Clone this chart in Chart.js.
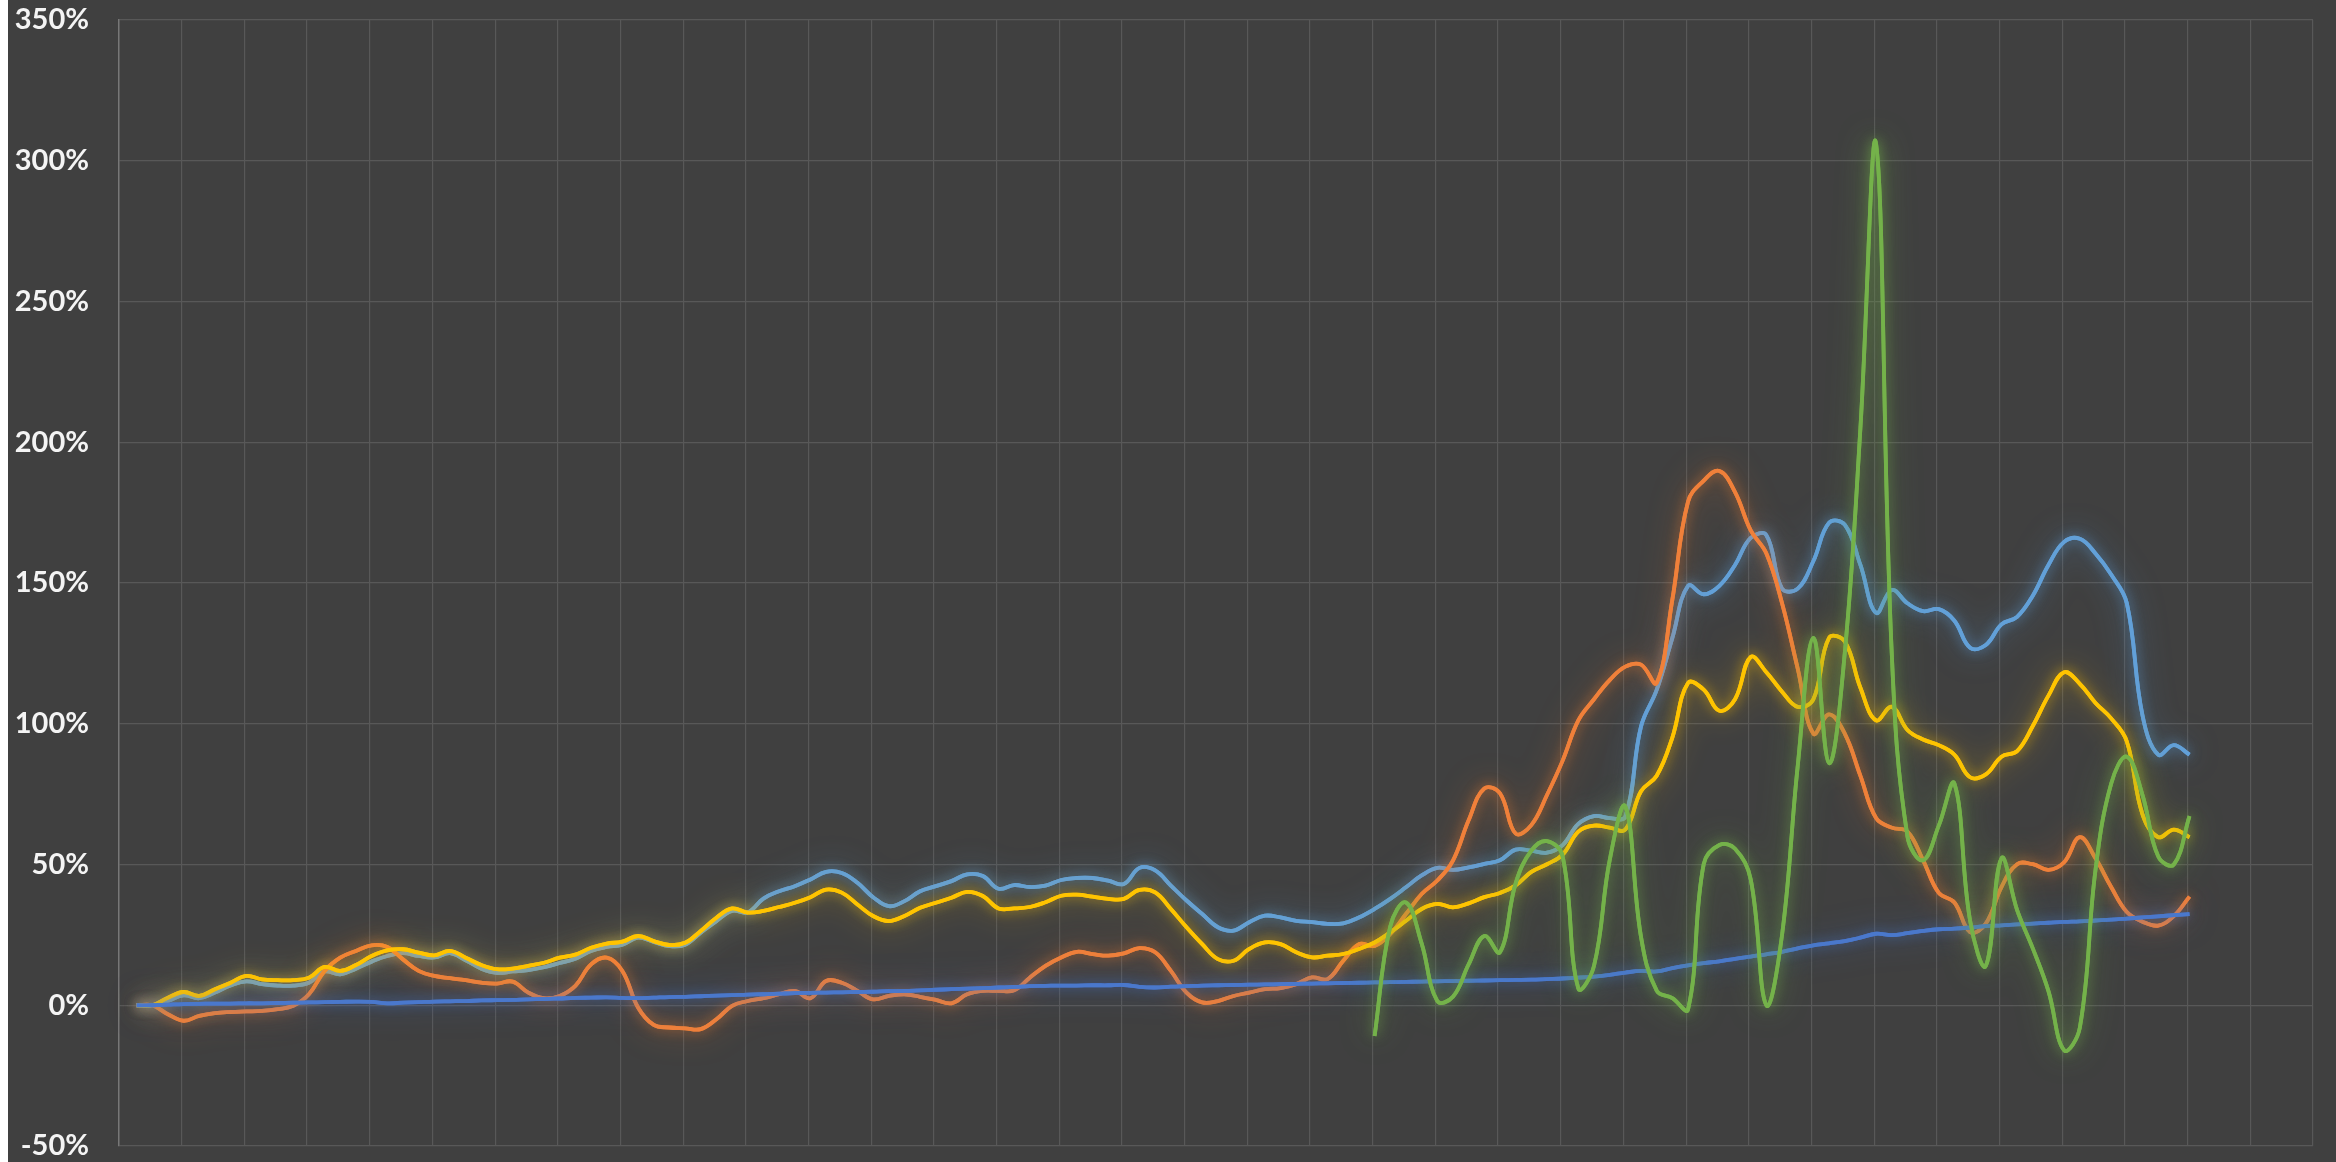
<!DOCTYPE html>
<html>
<head>
<meta charset="utf-8">
<script src="https://cdn.jsdelivr.net/npm/chart.js@4.4.1/dist/chart.umd.min.js"></script>
<style>
  html, body { margin: 0; padding: 0; background: #ffffff; width: 2336px; height: 1162px; overflow: hidden; }
  #wrap { position: absolute; left: 8px; top: 0; width: 2328px; height: 1162px; background: #404040; }
  canvas { display: block; }
</style>
</head>
<body>
<div id="wrap"><canvas id="c" width="2328" height="1162"></canvas></div>
<script>
// ---- data (quarterly points, one vertical gridline per 4 quarters) ----
const quarters = Array.from({ length: 132 }, (_, i) => i);

const yTicks = [-50, 0, 50, 100, 150, 200, 250, 300, 350];

const seriesLightBlue = [
  0, 0, 1.5, 3.5, 2.5, 4.5, 7, 8.5, 7.5, 7,
  7, 8, 12, 11, 13, 15.5, 17.5, 18.5, 17.5, 17,
  18.5, 16, 13, 11.5, 12, 12.5, 13.5, 15, 16.5, 19.3,
  20.7, 21.5, 24, 22.5, 21, 21.5, 25.8, 29.9, 33.5, 33,
  37.9, 40.5, 42.3, 44.7, 47.4, 47, 43.5, 38.4, 35.2, 37,
  40.5, 42.3, 44.1, 46.5, 45.9, 41.4, 42.7, 42, 42.5, 44.5,
  45.2, 45.2, 44.3, 43.1, 48.8, 47.9, 42.5, 37.2, 32.4, 27.7,
  26.5, 29.5, 31.8, 31.2, 30, 29.5, 28.9, 29.1, 31.2, 34.2,
  37.8, 41.9, 46.1, 48.8, 48.1, 49, 50.2, 51.5, 55.3, 54.9,
  54.2, 56.9, 64.4, 67.2, 66.5, 67, 99, 112, 130.5, 149,
  146, 149, 156.4, 166, 167, 148, 148, 157.8, 171.4, 170.7,
  156.4, 139.4, 147.5, 142.8, 140, 140.7, 136.6, 127, 128, 135.3,
  138, 145.5, 156.4, 164.6, 165.7, 160.5, 153, 142.8, 103, 89, 92.4, 89
];

const seriesOrange = [
  0, 0, -3.2, -5.5, -3.8, -2.8, -2.4, -2.2, -2, -1.4,
  -0.2, 3.9, 12.2, 16.9, 19.3, 21.3, 20.7, 16.3, 12.2, 10.4,
  9.6, 8.9, 8, 7.7, 8.4, 4.5, 2.5, 3.3, 6.9, 14.5,
  16.9, 12.2, -0.8, -7, -7.9, -8.2, -8.5, -5, -0.2, 1.5,
  2.5, 3.9, 5.1, 2.5, 8.6, 8, 5.1, 2.1, 3.3, 3.9,
  3, 1.9, 0.7, 3.9, 5.1, 5.1, 5.3, 9.8, 14, 17,
  19, 18.2, 17.6, 18.4, 20.3, 18.8, 12.2, 4.5, 1, 1.5,
  3.3, 4.5, 5.7, 6.1, 7.5, 9.9, 9.3, 15.8, 21.7, 21.1,
  25.3, 32.4, 39.5, 44.3, 51.4, 65.7, 77, 75.3, 61, 64,
  74.7, 86.9, 101.2, 108.7, 115.5, 120.3, 121, 114.5, 144.1, 178.9,
  186.4, 189.8, 182.3, 168.7, 160.5, 142.8, 119.6, 96.5, 103.3, 96.5,
  81.5, 66.5, 63.1, 61.7, 51.5, 39.9, 36.5, 26, 29, 42,
  50.1, 50.1, 48.1, 50.8, 59.7, 52.2, 42, 33.1, 29.7, 28.3, 31.7, 38.6
];

const seriesYellow = [
  0, 0, 2.7, 4.7, 3.3, 5.7, 8, 10.4, 9.2, 8.9,
  8.9, 9.8, 13.6, 12.2, 14.3, 17.5, 19.5, 19.9, 18.7, 17.7,
  19.3, 16.9, 14.3, 12.8, 13, 14, 15.1, 16.9, 18, 20.4,
  21.9, 22.6, 24.6, 22.8, 21.4, 22.2, 26.4, 31.1, 34.4, 32.9,
  33.5, 34.9, 36.4, 38.4, 41.1, 40, 35.8, 31.7, 29.9, 31.7,
  34.6, 36.4, 38.2, 40.3, 38.8, 34.4, 34.4, 34.9, 36.6, 38.9,
  39.3, 38.6, 37.8, 37.8, 41, 40.1, 34.2, 27.7, 21.7, 16.4,
  15.8, 20, 22.3, 21.7, 18.8, 17, 17.6, 18.2, 20, 22.3,
  25.9, 30, 34.2, 36, 34.8, 36.2, 38.4, 39.9, 42.6, 47.4,
  50.1, 53.5, 61.7, 63.8, 63.1, 62.4, 76, 81.5, 95.1, 114.5,
  112.1, 104.6, 108.7, 123.7, 118.3, 111.4, 106, 108.7, 130.5, 129.2,
  112.8, 101.2, 106, 97.8, 94.4, 92.4, 89, 81, 82, 88.3,
  90.3, 99.2, 110, 118.3, 114.2, 107.4, 101.9, 93.7, 67.8, 59.7, 62.4, 59.7
];

const seriesDarkBlue = [
  0, 0, 0.2, 0.4, 0.5, 0.6, 0.6, 0.7, 0.7, 0.8,
  0.9, 1.0, 1.1, 1.2, 1.3, 1.2, 0.7, 0.9, 1.1, 1.3,
  1.4, 1.5, 1.7, 1.8, 1.9, 2.1, 2.2, 2.4, 2.6, 2.7,
  2.8, 2.6, 2.5, 2.7, 2.9, 3.0, 3.2, 3.4, 3.6, 3.8,
  3.9, 4.1, 4.3, 4.4, 4.5, 4.6, 4.7, 4.8, 5.0, 5.1,
  5.3, 5.5, 5.7, 5.9, 6.1, 6.3, 6.5, 6.8, 6.9, 7.0,
  7.0, 7.1, 7.1, 7.2, 6.5, 6.3, 6.6, 6.8, 7.0, 7.1,
  7.2, 7.3, 7.4, 7.5, 7.6, 7.7, 7.8, 7.9, 8.0, 8.1,
  8.2, 8.3, 8.4, 8.5, 8.6, 8.7, 8.8, 8.9, 9.0, 9.1,
  9.3, 9.5, 9.8, 10.2, 10.8, 11.6, 12.2, 12.0, 13.2, 14.2,
  15.0, 15.6, 16.5, 17.3, 18.1, 19.0, 20.2, 21.3, 22.0, 22.8,
  24.0, 25.4, 24.9, 25.6, 26.4, 27.0, 27.2, 27.6, 28.1, 28.4,
  28.7, 29.0, 29.3, 29.6, 29.8, 30.1, 30.4, 30.8, 31.2, 31.6, 32.0, 32.4
];

const seriesGreen = [
  null, null, null, null, null, null, null, null, null, null,
  null, null, null, null, null, null, null, null, null, null,
  null, null, null, null, null, null, null, null, null, null,
  null, null, null, null, null, null, null, null, null, null,
  null, null, null, null, null, null, null, null, null, null,
  null, null, null, null, null, null, null, null, null, null,
  null, null, null, null, null, null, null, null, null, null,
  null, null, null, null, null, null, null, null, null, -10.9,
  28, 36.5, 22, 1.5, 3, 14.5, 24.6, 18.8, 43.3, 54.9,
  58.3, 52.9, 6, 14, 51.5, 70.6, 24.3, 5.2, 2.5, -1.5,
  50.1, 56.9, 55.6, 44.7, 0, 25, 85, 130.5, 86, 125,
  205, 306, 125, 60, 51.5, 63.8, 78.7, 30, 14, 52.2,
  33.8, 20.2, 5, -16, -8, 48, 78.7, 88.3, 74.7, 52.9, 50, 67.2
];

// ---- layout of the category positions on the gridline axis ----
const FIRST_POS = 0.28;   // first quarter, in gridline units
const STEP = 0.25;        // four quarters per gridline

function toPoints(values) {
  return quarters.map((q, i) => ({ x: FIRST_POS + q * STEP, y: values[i] }));
}

// soft outer glow: the line element is drawn once more with a wide blurred shadow
const glowPlugin = {
  id: 'glow',
  beforeDatasetDraw(chart, args) {
    const ds = chart.data.datasets[args.index];
    const ctx = chart.ctx;
    const line = args.meta.dataset;
    ctx.save();
    ctx.shadowColor = ds.glowColor;
    ctx.shadowBlur = 30;
    ctx.shadowOffsetX = 0;
    ctx.shadowOffsetY = 0;
    line.draw(ctx, chart.chartArea);
    ctx.restore();
    ctx.save();
    ctx.shadowColor = ds.glowColor;
    ctx.shadowBlur = 12;
  },
  afterDatasetDraw(chart) {
    chart.ctx.restore();
  }
};

const mk = (label, values, color, glow) => ({
  label,
  data: toPoints(values),
  borderColor: color,
  glowColor: glow,
  borderWidth: 3.8,
  pointRadius: 0,
  tension: 0.4,
  fill: false,
  spanGaps: false
});

new Chart(document.getElementById('c'), {
  type: 'line',
  data: {
    datasets: [
      mk('Series 5', seriesGreen, '#74B24A', 'rgba(112,173,71,0.75)'),
      mk('Series 4', seriesDarkBlue, '#4A78CC', 'rgba(68,114,196,0.75)'),
      mk('Series 3', seriesYellow, '#FFC400', 'rgba(255,192,0,0.7)'),
      mk('Series 2', seriesOrange, '#F0803A', 'rgba(237,125,49,0.7)'),
      mk('Series 1', seriesLightBlue, '#62A0D8', 'rgba(91,155,213,0.75)')
    ]
  },
  options: {
    responsive: false,
    animation: false,
    events: [],
    layout: { padding: { top: 20, right: 23, bottom: 16, left: 0 } },
    plugins: { legend: { display: false }, tooltip: { enabled: false } },
    scales: {
      x: {
        type: 'linear',
        min: 0,
        max: 35,
        ticks: { display: false, stepSize: 1 },
        grid: { color: '#585858', lineWidth: 1.2, drawTicks: false },
        border: { display: false },
        afterFit: (s) => { s.height = 0; s.paddingLeft = 0; s.paddingRight = 0; }
      },
      y: {
        type: 'linear',
        min: yTicks[0],
        max: yTicks[yTicks.length - 1],
        afterBuildTicks: (s) => { s.ticks = yTicks.map(v => ({ value: v })); },
        ticks: {
          color: '#f4f4f4',
          padding: 30,
          font: { family: 'Lato', weight: 'bold', size: 29 },
          callback: (v) => v + '%'
        },
        grid: { color: '#585858', lineWidth: 1.2, drawTicks: false },
        border: { display: true, color: '#777777', width: 1.5 },
        afterFit: (s) => { s.width = 111; s.paddingTop = 0; s.paddingBottom = 0; }
      }
    }
  },
  plugins: [glowPlugin]
});
</script>
</body>
</html>
